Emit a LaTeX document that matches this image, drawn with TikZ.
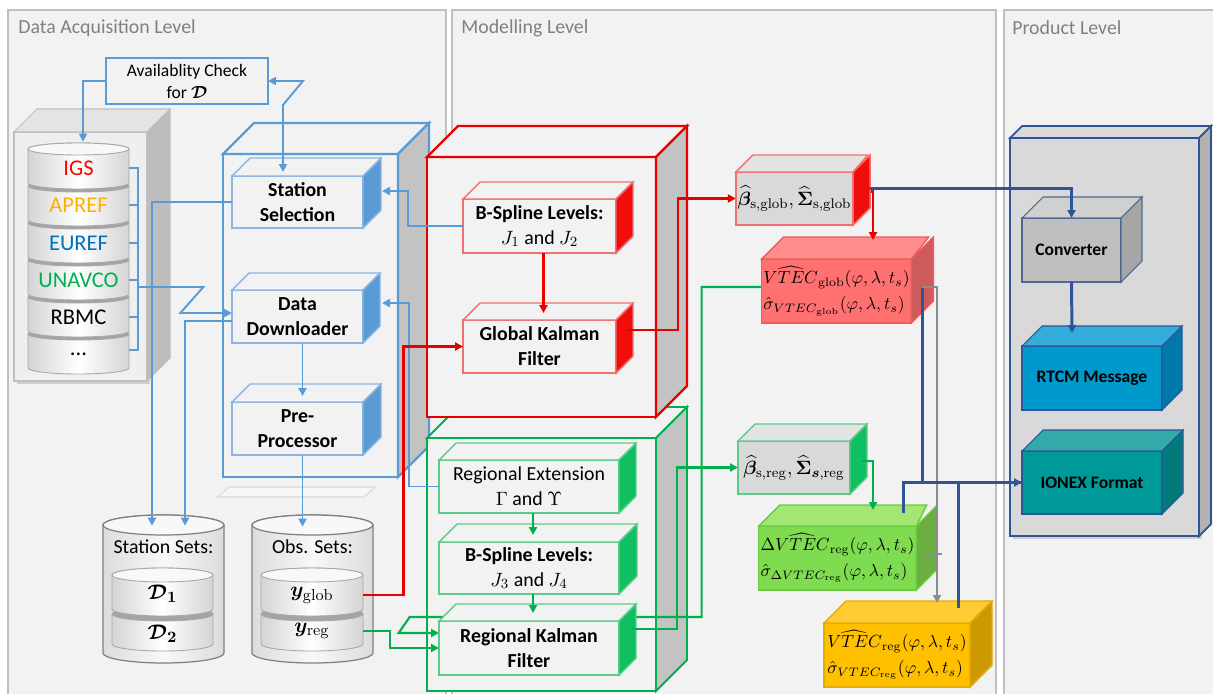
\documentclass[tikz,border=0pt]{standalone}
\usepackage[no-math]{fontspec}
\setmainfont{Carlito}
\usepackage{amsmath}
\usepackage{bm}
\usetikzlibrary{arrows.meta,calc,shadows}
\pgfdeclarelayer{back}
\pgfdeclarelayer{under}
\pgfsetlayers{back,under,main}
\definecolor{bgc}{HTML}{F2F2F2}
\definecolor{panelb}{HTML}{BFBFBF}
\definecolor{titleg}{HTML}{808080}
\definecolor{sideg}{HTML}{C3C3C3}
\definecolor{blueC}{HTML}{5B9BD5}
\definecolor{blueL}{HTML}{8DB4E2}
\definecolor{redC}{HTML}{E60000}
\definecolor{redL}{HTML}{F07070}
\definecolor{redS}{HTML}{F20D0D}
\definecolor{greenC}{HTML}{00B050}
\definecolor{greenL}{HTML}{5CCB8A}
\definecolor{greenS}{HTML}{10C060}
\definecolor{navy}{HTML}{2F5597}
\definecolor{greyW}{HTML}{8C8C8C}
\definecolor{igsR}{HTML}{FF0000}
\definecolor{aprefO}{HTML}{FFB000}
\definecolor{eurefB}{HTML}{0070C0}
\definecolor{unavG}{HTML}{00B050}
\definecolor{dbB}{HTML}{BFBFBF}
\definecolor{dbF}{HTML}{EFEFEF}
\definecolor{dbT}{HTML}{E4E4E4}
\definecolor{dbS}{HTML}{BDBDBD}
\definecolor{lgF}{HTML}{D9D9D9}
\definecolor{lgT}{HTML}{E3E3E3}
\definecolor{vgB}{HTML}{F05A5A}
\definecolor{vgF}{HTML}{FF7070}
\definecolor{vgT}{HTML}{FF8E8E}
\definecolor{vgS}{HTML}{CD5B5B}
\definecolor{dvB}{HTML}{6CCB40}
\definecolor{dvF}{HTML}{7FDB4F}
\definecolor{dvT}{HTML}{A2E673}
\definecolor{dvS}{HTML}{6AAF3F}
\definecolor{vrB}{HTML}{E6AC00}
\definecolor{vrF}{HTML}{FFC000}
\definecolor{vrT}{HTML}{FFCC33}
\definecolor{vrS}{HTML}{CC9A00}
\definecolor{pcF}{HTML}{D9D9D9}
\definecolor{pcS}{HTML}{B2B2B2}
\definecolor{cvB}{HTML}{4F6A8F}
\definecolor{cvF}{HTML}{BFBFBF}
\definecolor{cvT}{HTML}{D0D0D0}
\definecolor{cvS}{HTML}{A6A6A6}
\definecolor{rtF}{HTML}{0099CC}
\definecolor{rtT}{HTML}{33ADDB}
\definecolor{rtS}{HTML}{0079A8}
\definecolor{ioF}{HTML}{009999}
\definecolor{ioT}{HTML}{33AAAA}
\definecolor{ioS}{HTML}{007A7A}
\definecolor{cylB}{HTML}{7F7F7F}
\definecolor{cylE}{HTML}{DCDCDC}
\definecolor{cylM}{HTML}{F8F8F8}
\definecolor{dkB}{HTML}{A8A8A8}
\definecolor{dkE}{HTML}{D4D4D4}
\definecolor{dkBand}{HTML}{A4A4A4}
\definecolor{ghost}{HTML}{E2E2E2}
\newcommand\ftitle{\fontsize{11.3pt}{13pt}\selectfont}
\newcommand\fbold{\fontsize{11.3pt}{14.2pt}\selectfont\bfseries}
\newcommand\fnorm{\fontsize{11.3pt}{14.2pt}\selectfont}
\newcommand\fsmall{\fontsize{10pt}{12.5pt}\selectfont}
\newcommand\fsmallb{\fontsize{10pt}{12.5pt}\selectfont\bfseries}
\newcommand\fdb{\fontsize{12.8pt}{15pt}\selectfont}
\newcommand\fmath{\fontsize{10.4pt}{14.6pt}\selectfont}
\newcommand\fbeta{\fontsize{11pt}{13pt}\selectfont}
\newcommand\fbig{\fontsize{13pt}{15pt}\selectfont}
\tikzset{
 arr/.style={-{Triangle[length=0.16cm,width=0.16cm]}},
 darr/.style={{Triangle[length=0.16cm,width=0.16cm]}-{Triangle[length=0.16cm,width=0.16cm]}},
 bw/.style={draw=blueC,line width=1.1pt},
 rw/.style={draw=redC,line width=1.4pt},
 gw/.style={draw=greenC,line width=1.2pt},
 nw/.style={draw=navy,line width=1.7pt},
 gyw/.style={draw=greyW,line width=1.1pt},
 panel/.style={draw=panelb,fill=bgc,line width=0.6pt},
 title/.style={text=titleg,font=\ftitle,anchor=west,inner sep=0pt},
 db front/.style={draw=dbB,fill=dbF,line width=0.6pt,drop shadow={shadow xshift=0.06cm,shadow yshift=-0.06cm,opacity=0.3}},
 db top/.style={draw=dbB,fill=dbT,line width=0.6pt},
 db side/.style={draw=dbB,fill=dbS,line width=0.6pt},
 blc front/.style={draw=blueC,fill=bgc,line width=1.3pt},
 blc top/.style={draw=blueC,fill=bgc,line width=1.3pt},
 blc side/.style={draw=blueC,fill=sideg,line width=1.3pt},
 rdc front/.style={draw=redC,fill=bgc,line width=1.3pt},
 rdc top/.style={draw=redC,fill=bgc,line width=1.3pt},
 rdc side/.style={draw=redC,fill=sideg,line width=1.3pt},
 grc front/.style={draw=greenC,fill=bgc,line width=1.1pt},
 grc top/.style={draw=greenC,fill=bgc,line width=1.1pt},
 grc side/.style={draw=greenC,fill=sideg,line width=1.1pt},
 pc front/.style={draw=navy,fill=pcF,line width=1pt,drop shadow={shadow xshift=0.05cm,shadow yshift=-0.05cm,opacity=0.3}},
 pc top/.style={draw=navy,fill=pcF,line width=1pt},
 pc side/.style={draw=navy,fill=pcS,line width=1pt},
 bl front/.style={draw=blueL,fill=bgc,line width=0.8pt,align=center,font=\fbold},
 bl top/.style={draw=blueL,fill=bgc,line width=0.8pt},
 bl side/.style={draw=blueL,fill=blueC,line width=0.8pt},
 rd front/.style={draw=redL,fill=bgc,line width=0.8pt,align=center,font=\fbold},
 rd top/.style={draw=redL,fill=bgc,line width=0.8pt},
 rd side/.style={draw=redL,fill=redS,line width=0.8pt},
 gr front/.style={draw=greenL,fill=bgc,line width=0.8pt,align=center,font=\fbold},
 gr top/.style={draw=greenL,fill=bgc,line width=0.8pt},
 gr side/.style={draw=greenL,fill=greenS,line width=0.8pt},
 grn front/.style={draw=greenL,fill=bgc,line width=0.8pt,align=center,font=\fnorm},
 grn top/.style={draw=greenL,fill=bgc,line width=0.8pt},
 grn side/.style={draw=greenL,fill=greenS,line width=0.8pt},
 bgr front/.style={draw=redL,fill=lgF,line width=0.8pt,font=\fbeta},
 bgr top/.style={draw=redL,fill=lgT,line width=0.8pt},
 bgr side/.style={draw=redL,fill=redS,line width=0.8pt},
 bgg front/.style={draw=greenL,fill=lgF,line width=0.8pt,font=\fbeta},
 bgg top/.style={draw=greenL,fill=lgT,line width=0.8pt},
 bgg side/.style={draw=greenL,fill=greenS,line width=0.8pt},
 vg front/.style={draw=vgB,fill=vgF,line width=0.8pt,align=left,font=\fmath},
 vg top/.style={draw=vgB,fill=vgT,line width=0.8pt},
 vg side/.style={draw=vgB,fill=vgS,line width=0.8pt},
 dv front/.style={draw=dvB,fill=dvF,line width=0.8pt,align=left,font=\fmath},
 dv top/.style={draw=dvB,fill=dvT,line width=0.8pt},
 dv side/.style={draw=dvB,fill=dvS,line width=0.8pt},
 vr front/.style={draw=vrB,fill=vrF,line width=0.8pt,align=left,font=\fmath},
 vr top/.style={draw=vrB,fill=vrT,line width=0.8pt},
 vr side/.style={draw=vrB,fill=vrS,line width=0.8pt},
 cv front/.style={draw=cvB,fill=cvF,line width=0.6pt,font=\fsmallb},
 cv top/.style={draw=cvB,fill=cvT,line width=0.6pt},
 cv side/.style={draw=cvB,fill=cvS,line width=0.6pt},
 rt front/.style={draw=navy,fill=rtF,line width=0.6pt,font=\fsmallb},
 rt top/.style={draw=navy,fill=rtT,line width=0.6pt},
 rt side/.style={draw=navy,fill=rtS,line width=0.6pt},
 io front/.style={draw=navy,fill=ioF,line width=0.6pt,font=\fsmallb},
 io top/.style={draw=navy,fill=ioT,line width=0.6pt},
 io side/.style={draw=navy,fill=ioS,line width=0.6pt},
 cyl/.style={draw=cylB,line width=0.7pt,left color=cylE,right color=cylE,middle color=cylM},
 cyltop/.style={draw=cylB,line width=0.7pt,fill=cylM},
 disk/.style={draw=dkB,line width=0.5pt,left color=dkE,right color=dkE,middle color=white},
 disktop/.style={draw=dkB,line width=0.5pt,fill=cylM},
 diskband/.style={draw=dkB,line width=0.5pt,fill=dkBand},
 dblabel/.style={font=\fdb,minimum width=2.02cm,inner sep=0pt},
}
% name, x1, y1, x2, y2, depth, family, text
\newcommand\mycube[8]{%
 \node[#7 front,minimum width={(#4-(#2))*0.02cm},minimum height={(#5-(#3))*0.02cm},inner sep=1pt,outer sep=0pt] (#1) at ({((#2)+(#4))/2},{((#3)+(#5))/2}) {#8};
 \path[#7 top] (#1.north west) -- ++(#6,-#6) -- ++({#4-(#2)},0) -- (#1.north east) -- cycle;
 \path[#7 side] (#1.north east) -- ++(#6,-#6) -- ++(0,{#5-(#3)}) -- (#1.south east) -- cycle;
}
% x1, x2, ytop, ybottom, ry, style
\newcommand\mycyl[6]{%
 \path[#6] (#1,#3) -- (#1,#4) arc[start angle=180,end angle=0,x radius={((#2)-(#1))/2},y radius=#5] -- (#2,#3) arc[start angle=0,end angle=-180,x radius={((#2)-(#1))/2},y radius=#5] -- cycle;
}
\newcommand\mycyltop[5]{%
 \path[#5] ({((#1)+(#2))/2},#3) ellipse[x radius={((#2)-(#1))/2},y radius=#4];
}
\begin{document}
\begin{tikzpicture}[x=0.02cm,y=-0.02cm]
\useasboundingbox (0,0) rectangle (1213,693);
\begin{pgfonlayer}{back}
\fill[white] (0,0) rectangle (1213,693);
\draw[panel] (8,10) rectangle (446,720);
\draw[panel] (452,10) rectangle (996,720);
\draw[panel] (1004,10) rectangle (1230,720);
\node[title] (t1) at (18,28) {Data Acquisition Level};
\node[title] (t2) at (461,28) {Modelling Level};
\node[title] (t3) at (1012,28) {Product Level};
\mycube{dbbox}{14}{132}{147}{381}{23}{db}{}
% faint reflection below the blue container
\path[draw=ghost,fill=bgc!60!white,line width=1pt] (218,497) -- (229,487) -- (375,487) -- (364,497) -- cycle;
\mycube{bluec}{223}{154}{398}{477}{31}{blc}{}
\mycube{greenc}{427}{438}{656}{691}{31}{grc}{}
\mycube{redc}{427}{157}{656}{417}{31}{rdc}{}
\mycube{prodc}{1010}{138}{1199}{536}{12}{pc}{}
\end{pgfonlayer}

% availability check
\node[draw=blueC,line width=1.3pt,fill=bgc,minimum width=3.24cm,minimum height=0.92cm,align=center,font=\fsmall,inner sep=0pt,outer sep=0pt] (avail) at (187,81) {Availablity Check\\for $\bm{\mathcal{D}}$};

% database stack
\node[minimum width=2.02cm,minimum height=4.6cm,inner sep=0pt] (stack) at (78.5,258) {};
\foreach \t in {334,297,260,223,186} {
 \mycyl{28}{129}{\t}{\t+34}{6}{disk}
 \mycyltop{28}{129}{\t}{6}{diskband}
}
\mycyl{28}{129}{149}{183}{6}{disk}
\mycyltop{28}{129}{149}{6}{disktop}
\node[dblabel,text=igsR] (igs) at (78.5,168) {IGS};
\node[dblabel,text=aprefO] (apref) at (78.5,205) {APREF};
\node[dblabel,text=eurefB] (euref) at (78.5,243) {EUREF};
\node[dblabel,text=unavG] (unavco) at (78.5,280) {UNAVCO};
\node[dblabel] (rbmc) at (78.5,317) {RBMC};
\node[dblabel] (dots) at (78.5,354) {...};

% blue boxes
\mycube{ss}{232}{176}{363}{228}{18}{bl}{Station\\Selection}
\mycube{dd}{232}{290}{363}{343}{17}{bl}{Data\\Downloader}
\mycube{pp}{232}{402}{363}{455}{18}{bl}{Pre-\\Processor}

% station sets cylinder
\node[minimum width=2.42cm,minimum height=2.96cm,inner sep=0pt] (stsets) at (163.5,589) {};
\mycyl{103}{224}{525}{653}{10}{cyl}
\mycyltop{103}{224}{525}{10}{cyltop}
\node[font=\fnorm,inner sep=0pt] (stlab) at (163.5,547) {Station Sets:};
\mycyl{112}{213}{614}{644}{7}{disk}
\mycyltop{112}{213}{614}{7}{diskband}
\mycyl{112}{213}{575}{609}{7}{disk}
\mycyltop{112}{213}{575}{7}{disktop}
\node[font=\fbig,minimum width=2.02cm,inner sep=0pt] (d1) at (162.5,594) {$\bm{\mathcal{D}}_{\mathbf{1}}$};
\node[font=\fbig,minimum width=2.02cm,inner sep=0pt] (d2) at (162.5,634) {$\bm{\mathcal{D}}_{\mathbf{2}}$};

% obs sets cylinder
\node[minimum width=2.42cm,minimum height=2.96cm,inner sep=0pt] (obssets) at (312.5,589) {};
\mycyl{252}{373}{525}{653}{10}{cyl}
\mycyltop{252}{373}{525}{10}{cyltop}
\node[font=\fnorm,inner sep=0pt] (oblab) at (312.5,547) {Obs. Sets:};
\mycyl{261}{363}{614}{644}{7}{disk}
\mycyltop{261}{363}{614}{7}{diskband}
\mycyl{261}{363}{575}{609}{7}{disk}
\mycyltop{261}{363}{575}{7}{disktop}
\node[font=\fbig,minimum width=2.04cm,inner sep=0pt] (yglob) at (312,595) {$\bm{y}_{\mathrm{glob}}$};
\node[font=\fbig,minimum width=2.04cm,inner sep=0pt] (yreg) at (312,631) {$\bm{y}_{\mathrm{reg}}$};

% red boxes
\mycube{bs12}{463}{199}{616}{253}{17}{rd}{B-Spline Levels:\\{\mdseries $J_1$ and $J_2$}}
\mycube{gkf}{463}{320}{616}{373}{17}{rd}{Global Kalman\\Filter}
% green boxes
\mycube{rext}{439}{460}{619}{513}{17}{grn}{Regional Extension\\$\Gamma$ and $\Upsilon$}
\mycube{bs34}{439}{542}{619}{594}{18}{gr}{B-Spline Levels:\\{\mdseries $J_3$ and $J_4$}}
\mycube{rkf}{439}{621}{619}{675}{17}{gr}{Regional Kalman\\Filter}

% result boxes
\mycube{bglob}{737}{172}{852}{225}{17}{bgr}{$\widehat{\bm{\beta}}_{\mathrm{s,glob}}, \widehat{\bm{\Sigma}}_{\mathrm{s,glob}}$}
\mycube{vglob}{764}{259}{909}{323}{22}{vg}{$\widehat{VTEC}_{\mathrm{glob}}(\varphi,\lambda,t_s)$\\$\hat{\sigma}_{VTEC_{\mathrm{glob}}}(\varphi,\lambda,t_s)$}
\mycube{breg}{738}{441}{850}{494}{17}{bgg}{$\widehat{\bm{\beta}}_{\mathrm{s,reg}}, \widehat{\bm{\Sigma}}_{\bm{s},\mathrm{reg}}$}
\mycube{dvreg}{764}{526}{911}{590}{21}{dv}{$\Delta\widehat{VTEC}_{\mathrm{reg}}(\varphi,\lambda,t_s)$\\$\hat{\sigma}_{\Delta VTEC_{\mathrm{reg}}}(\varphi,\lambda,t_s)$}
\mycube{vreg}{824}{623}{970}{687}{22}{vr}{$\widehat{VTEC}_{\mathrm{reg}}(\varphi,\lambda,t_s)$\\$\hat{\sigma}_{VTEC_{\mathrm{reg}}}(\varphi,\lambda,t_s)$}

% product boxes
\mycube{conv}{1022}{218}{1121}{282}{21}{cv}{Converter}
\mycube{rtcm}{1022}{346}{1162}{410}{20}{rt}{RTCM Message}
\mycube{ionex}{1022}{451}{1162}{514}{21}{io}{IONEX Format}

% green zigzag passing behind the regional kalman filter
\begin{pgfonlayer}{under}
\draw[gw,arr] ($(vglob.west)+(0,-4)$) -- ++(-60,0) -- ++(0,330) -- ++(-292,0) -- ++(-11,16) -- ($(rkf.west)+(0,-15)$);
\end{pgfonlayer}

% ---- connectors ----
% data acquisition
\draw[bw,arr] (avail.west) -| ($(stack.north)+(4.5,-1)$);
\draw[bw,darr] (avail.east) -- ++(35,0) -- ++(-20,24) -- ($(ss.north)+(-14.5,-4)$);
\draw[bw] (igs.east) -- ++(9,0) -- ($(dots.east)+(9,-4)$) -- ($(dots.east)+(0,-4)$);
\draw[bw] (apref.east) -- ++(9,0);
\draw[bw] (euref.east) -- ++(9,0);
\draw[bw] (unavco.east) -- ++(9,0);
\draw[bw] (rbmc.east) -- ++(9,0);
\draw[bw,arr] ($(unavco.east)+(9,7)$) -- ++(65,0) -- ++(-23,26) -- ($(dd.west)+(0,-3.5)$);
\draw[bw,arr] (ss.west) -| ($(stsets.north)+(-11.5,11)$);
\draw[bw,arr] ($(dd.west)+(0,4.5)$) -| ($(stsets.north)+(21.5,11)$);
\draw[bw,arr] ($(dd.south)+(5,0)$) -- ($(pp.north)+(5,-6)$);
\draw[bw,arr] ($(pp.south)+(5,0)$) -- ($(obssets.north)+(-10,12)$);
\draw[bw,arr] (bs12.west) -- ++(-55,0) |- ($(ss.east)+(19,-11)$);
\draw[bw,arr] (rext.west) -- ++(-30,0) |- ($(dd.east)+(19,-13.5)$);
% modelling
\draw[rw,arr] (yglob.east) -- ++(40,0) |- (gkf.west);
\draw[gw,arr] (yreg.east) -- ++(27,0) |- (rkf.west);
\draw[rw,arr] ($(bs12.south)+(4,0)$) -- ($(gkf.north)+(4,-7)$);
\draw[gw,arr] ($(rext.south)+(4,0)$) -- ($(bs34.north)+(4,-7)$);
\draw[gw,arr] ($(bs34.south)+(4,0)$) -- ($(rkf.north)+(4,-8)$);
\draw[rw,arr] ($(gkf.east)+(12,-16.5)$) -- ++(50,0) |- (bglob.west);
\draw[gw,arr] ($(rkf.east)+(13,-19)$) -- ++(45,0) |- (breg.west);
\draw[rw,arr] ($(bglob.east)+(18,-7)$) -| ($(vglob.north)+(36.5,-19)$);
\draw[gw,arr] ($(breg.east)+(12,-6.5)$) -| ($(dvreg.north)+(35.5,-16)$);
% grey
\draw[gyw,arr] ($(vglob.east)+(11,-4)$) -| ($(vreg.north)+(40,-20)$);
\draw[gyw] ($(dvreg.east)+(10,-4)$) -- ++(16,0);
% navy
\draw[nw,arr] ($(bglob.east)+(16,-10)$) -| (conv.north);
\draw[nw,arr] (conv.south) -- ($(rtcm.north)+(-20,-13)$);
\draw[nw] ($(dvreg.north)+(65.5,-13)$) |- (ionex.west);
\draw[nw] ($(vreg.north)+(61,-15)$) |- (ionex.west);
\draw[nw,arr] ($(vglob.east)+(11,-3)$) |- (ionex.west);
\end{tikzpicture}
\end{document}
